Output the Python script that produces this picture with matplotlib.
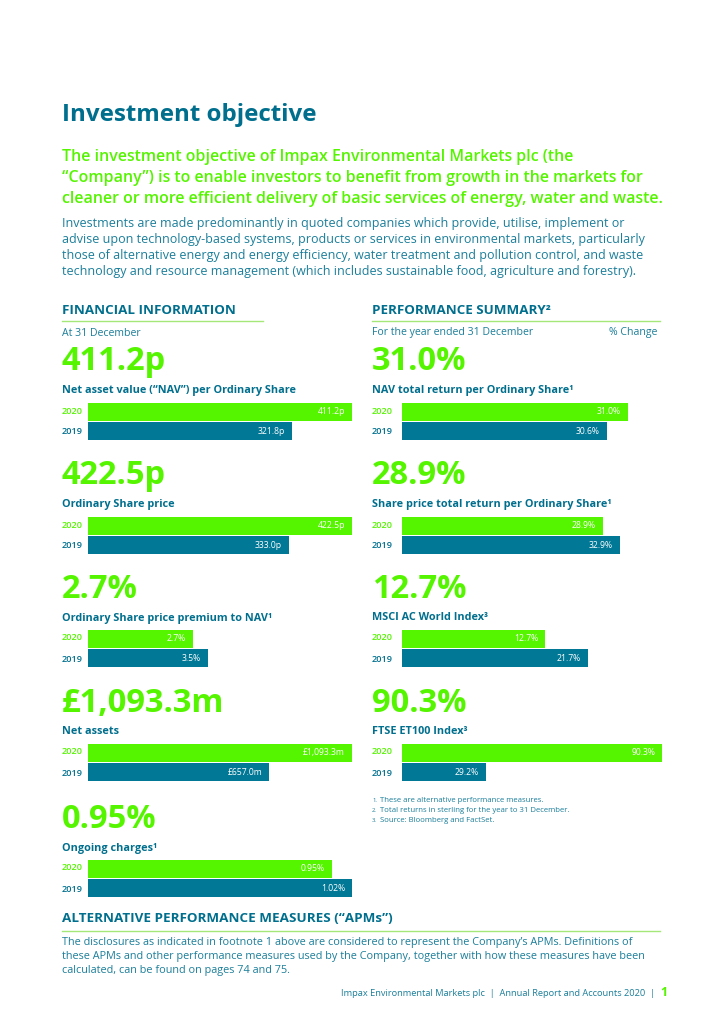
import matplotlib.pyplot as plt

plt.rcParams['font.family'] = ['Open Sans', 'DejaVu Sans']

GREEN = '#55F500'
TEAL = '#007896'
DARK = '#006F8E'
BODY = '#1B7E9A'
RULE = '#A5E879'

W, H = 724, 1024

# financial information (left column)
fin_big = ['411.2p', '422.5p', '2.7%', '£1,093.3m', '0.95%']
fin_names = ['Net asset value (“NAV”) per Ordinary Share', 'Ordinary Share price',
             'Ordinary Share price premium to NAV¹', 'Net assets', 'Ongoing charges¹']
fin_2020 = ['411.2p', '422.5p', '2.7%', '£1,093.3m', '0.95%']
fin_2019 = ['321.8p', '333.0p', '3.5%', '£657.0m', '1.02%']
# bar lengths as drawn in the report (share of the bar track)
fin_len_2020 = [1.0, 1.0, 0.398, 1.0, 0.924]
fin_len_2019 = [0.773, 0.76, 0.455, 0.686, 1.0]

# performance summary (right column)
perf_big = ['31.0%', '28.9%', '12.7%', '90.3%']
perf_names = ['NAV total return per Ordinary Share¹', 'Share price total return per Ordinary Share¹',
              'MSCI AC World Index³', 'FTSE ET100 Index³']
perf_2020 = ['31.0%', '28.9%', '12.7%', '90.3%']
perf_2019 = ['30.6%', '32.9%', '21.7%', '29.2%']
perf_len_2020 = [0.869, 0.772, 0.55, 1.0]
perf_len_2019 = [0.787, 0.838, 0.715, 0.323]

years = ['2020', '2019']
footnotes = ['These are alternative performance measures.',
             'Total returns in sterling for the year to 31 December.',
             'Source: Bloomberg and FactSet.']

fig = plt.figure(figsize=(W / 100, H / 100), dpi=100)
fig.patch.set_facecolor('white')


def fx(x):
    return x / W


def fy(y):
    return 1 - y / H


def txt(x, y, s, size, color, weight='normal', ha='left', va='center'):
    fig.text(fx(x), fy(y), s, fontsize=size, color=color, fontweight=weight, ha=ha, va=va)


def rule(x0, x1, y):
    fig.add_artist(plt.Line2D([fx(x0), fx(x1)], [fy(y), fy(y)], color=RULE, lw=1.0))


# header
txt(62, 115, 'Investment objective', 17.4, DARK, 'bold')
lead = ['The investment objective of Impax Environmental Markets plc (the',
        '“Company”) is to enable investors to benefit from growth in the markets for',
        'cleaner or more efficient delivery of basic services of energy, water and waste.']
for i, s in enumerate(lead):
    txt(62, 157 + 21 * i, s, 11.5, GREEN, 'semibold')
body = ['Investments are made predominantly in quoted companies which provide, utilise, implement or',
        'advise upon technology-based systems, products or services in environmental markets, particularly',
        'those of alternative energy and energy efficiency, water treatment and pollution control, and waste',
        'technology and resource management (which includes sustainable food, agriculture and forestry).']
for i, s in enumerate(body):
    txt(62, 224 + 16 * i, s, 9.0, BODY)

# column headings
txt(62, 310, 'FINANCIAL INFORMATION', 9.6, DARK, 'bold')
rule(62, 263, 321)
txt(62, 333, 'At 31 December', 7.6, BODY)
txt(372, 310, 'PERFORMANCE SUMMARY²', 9.6, DARK, 'bold')
rule(372, 660, 321)
txt(372, 333, 'For the year ended 31 December', 7.6, BODY)
txt(657, 333, '% Change', 7.6, BODY, ha='right')


def block(x0, track, top, big, name, lab20, lab19, len20, len19):
    lx = 372 if x0 > 300 else 62
    txt(lx, top - 40, big, 23.5, GREEN, 'bold')
    txt(lx, top - 11, name, 7.8, DARK, 'bold')
    txt(lx, top + 9, years[0], 6.6, GREEN, 'semibold')
    txt(lx, top + 30, years[1], 6.6, DARK, 'semibold')
    ax = fig.add_axes([fx(x0), fy(top + 39), track / W, 39 / H])
    ax.barh([0, 1], [len20, len19], height=0.92, color=[GREEN, TEAL], left=0)
    ax.set_xlim(0, 1)
    ax.set_ylim(1.5, -0.5)
    ax.axis('off')
    for yy, ln, lab in [(0, len20, lab20), (1, len19, lab19)]:
        ax.annotate(lab, (ln, yy), xytext=(-5, 0), textcoords='offset points',
                    ha='right', va='center', color='white', fontsize=6.2)


left_tops = [402, 516, 629, 743, 859]
for i in range(len(fin_big)):
    block(88, 264, left_tops[i], fin_big[i], fin_names[i], fin_2020[i], fin_2019[i],
          fin_len_2020[i], fin_len_2019[i])

right_tops = [402, 516, 629, 743]
for i in range(len(perf_big)):
    block(402, 260, right_tops[i], perf_big[i], perf_names[i], perf_2020[i], perf_2019[i],
          perf_len_2020[i], perf_len_2019[i])

# footnotes
for i, s in enumerate(footnotes):
    txt(372, 800 + 10 * i, f'{i + 1}.', 4.2, BODY)
    txt(380, 801 + 10 * i, s, 5.6, BODY)

# APM section
txt(62, 918, 'ALTERNATIVE PERFORMANCE MEASURES (“APMs”)', 9.7, DARK, 'bold')
rule(62, 660, 931)
apm = ['The disclosures as indicated in footnote 1 above are considered to represent the Company’s APMs. Definitions of',
       'these APMs and other performance measures used by the Company, together with how these measures have been',
       'calculated, can be found on pages 74 and 75.']
for i, s in enumerate(apm):
    txt(62, 943 + 13.5 * i, s, 7.8, BODY)

txt(655, 994, 'Impax Environmental Markets plc  |  Annual Report and Accounts 2020  |', 6.7, BODY, ha='right')
txt(660, 993, '1', 9, GREEN, 'bold')

fig.savefig('out.png', dpi=100, facecolor='white')
